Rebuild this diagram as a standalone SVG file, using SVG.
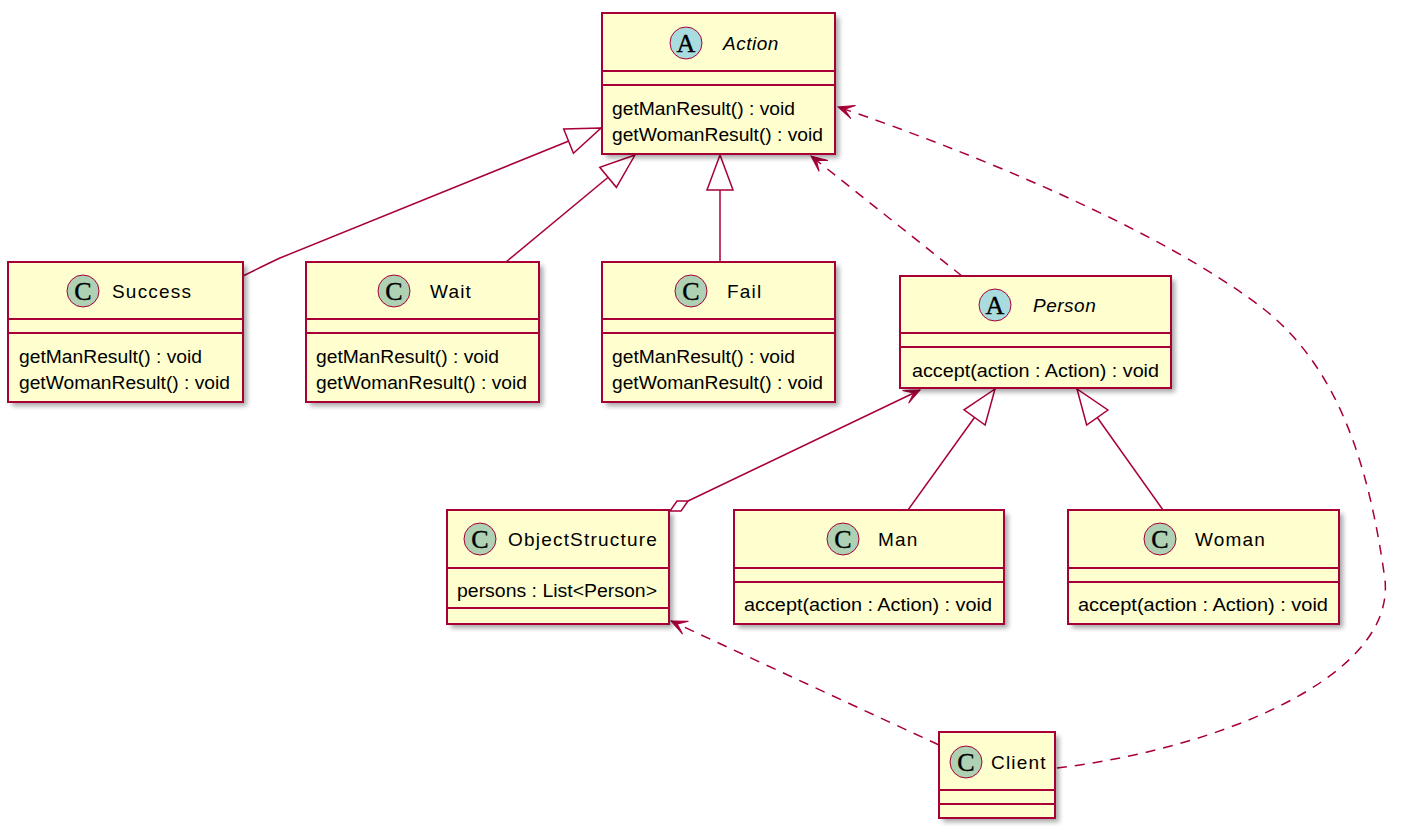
<svg xmlns="http://www.w3.org/2000/svg" width="1416" height="829" viewBox="0 0 1416 829">
<style>
.box{fill:#FEFECE;stroke:#A80036;stroke-width:2}
.sep{stroke:#A80036;stroke-width:2}
.shadow{fill:#000;opacity:0.35;filter:url(#blur)}
.ca{fill:#A9DCDF;stroke:#A80036;stroke-width:1}
.cc{fill:#ADD1B2;stroke:#A80036;stroke-width:1}
.glyph{font-family:"Liberation Serif",serif;font-size:26px;text-anchor:middle;fill:#000;stroke:#000;stroke-width:0.4}
.title{font-family:"Liberation Sans",Arial,sans-serif;font-size:19px;letter-spacing:1.2px;fill:#000}
.it{font-style:italic;letter-spacing:0.5px}
.mem{font-family:"Liberation Sans",Arial,sans-serif;font-size:17.5px;fill:#000}
.edge{fill:none;stroke:#A80036;stroke-width:1.5}
.dash{stroke-dasharray:10,8}
</style>
<defs>
<filter id="blur" x="-10%" y="-10%" width="130%" height="130%"><feGaussianBlur stdDeviation="2.5"/></filter>
<marker id="tri" markerUnits="userSpaceOnUse" markerWidth="40" markerHeight="30" viewBox="-37 -15 40 30" refX="0" refY="0" orient="auto"><path d="M0,0 L-35,-13 L-35,13 Z" fill="#FFFFFF" stroke="#A80036" stroke-width="1.5"/></marker>
<marker id="arr" markerUnits="userSpaceOnUse" markerWidth="22" markerHeight="18" viewBox="-18 -9 22 18" refX="0" refY="0" orient="auto"><path d="M0,0 L-16,-7 L-7,0 L-16,7 Z" fill="#A80036" stroke="#A80036" stroke-width="1"/></marker>
</defs>

<g id="connectors">
<path class="edge" d="M243,276 C255,270 265,265 280,258 L601,128" marker-end="url(#tri)"/>
<path class="edge" d="M506,262 L635,155" marker-end="url(#tri)"/>
<path class="edge" d="M720,262 L720,155" marker-end="url(#tri)"/>
<path class="edge dash" d="M962,276 L811,156" marker-end="url(#arr)"/>
<path class="edge dash" d="M1057,768 C1210,750 1395,680 1385,580 C1370,470 1340,370 1265,310 C1160,228 960,148 838,107" marker-end="url(#arr)"/>
<path class="edge" d="M688,501 L920,390" marker-end="url(#arr)"/>
<polygon points="670,511 677,501 688,501 681,511" fill="#FFFFFF" stroke="#A80036" stroke-width="1.5"/>
<path class="edge" d="M908,510 L995,389" marker-end="url(#tri)"/>
<path class="edge" d="M1163,510 L1077,389" marker-end="url(#tri)"/>
<path class="edge dash" d="M939,745 L671,621" marker-end="url(#arr)"/>
</g>

<g id="Action">
<rect class="shadow" x="606" y="17" width="233" height="141"/>
<rect class="box" x="602" y="13" width="233" height="141"/>
<line class="sep" x1="602" y1="71" x2="835" y2="71"/>
<line class="sep" x1="602" y1="85" x2="835" y2="85"/>
<circle class="ca" cx="686" cy="43" r="16"/>
<text class="glyph" x="686" y="52">A</text>
<text class="title it" x="723" y="50">Action</text>
<text class="mem" x="612" y="115" textLength="183" lengthAdjust="spacingAndGlyphs">getManResult() : void</text>
<text class="mem" x="612" y="141" textLength="211" lengthAdjust="spacingAndGlyphs">getWomanResult() : void</text>
</g>

<g id="Success">
<rect class="shadow" x="12" y="266" width="235" height="140"/>
<rect class="box" x="8" y="262" width="235" height="140"/>
<line class="sep" x1="8" y1="319" x2="243" y2="319"/>
<line class="sep" x1="8" y1="333" x2="243" y2="333"/>
<circle class="cc" cx="83" cy="291" r="16"/>
<text class="glyph" x="83" y="300">C</text>
<text class="title" x="112" y="298">Success</text>
<text class="mem" x="19" y="363" textLength="183" lengthAdjust="spacingAndGlyphs">getManResult() : void</text>
<text class="mem" x="19" y="389" textLength="211" lengthAdjust="spacingAndGlyphs">getWomanResult() : void</text>
</g>

<g id="Wait">
<rect class="shadow" x="310" y="266" width="233" height="140"/>
<rect class="box" x="306" y="262" width="233" height="140"/>
<line class="sep" x1="306" y1="319" x2="539" y2="319"/>
<line class="sep" x1="306" y1="333" x2="539" y2="333"/>
<circle class="cc" cx="394" cy="291" r="16"/>
<text class="glyph" x="394" y="300">C</text>
<text class="title" x="430" y="298">Wait</text>
<text class="mem" x="316" y="363" textLength="183" lengthAdjust="spacingAndGlyphs">getManResult() : void</text>
<text class="mem" x="316" y="389" textLength="211" lengthAdjust="spacingAndGlyphs">getWomanResult() : void</text>
</g>

<g id="Fail">
<rect class="shadow" x="606" y="266" width="233" height="140"/>
<rect class="box" x="602" y="262" width="233" height="140"/>
<line class="sep" x1="602" y1="319" x2="835" y2="319"/>
<line class="sep" x1="602" y1="333" x2="835" y2="333"/>
<circle class="cc" cx="691" cy="291" r="16"/>
<text class="glyph" x="691" y="300">C</text>
<text class="title" x="727" y="298">Fail</text>
<text class="mem" x="612" y="363" textLength="183" lengthAdjust="spacingAndGlyphs">getManResult() : void</text>
<text class="mem" x="612" y="389" textLength="211" lengthAdjust="spacingAndGlyphs">getWomanResult() : void</text>
</g>

<g id="Person">
<rect class="shadow" x="904" y="280" width="271" height="112"/>
<rect class="box" x="900" y="276" width="271" height="112"/>
<line class="sep" x1="900" y1="333" x2="1171" y2="333"/>
<line class="sep" x1="900" y1="347" x2="1171" y2="347"/>
<circle class="ca" cx="995" cy="305" r="16"/>
<text class="glyph" x="995" y="314">A</text>
<text class="title it" x="1033" y="312">Person</text>
<text class="mem" x="912" y="377" textLength="247" lengthAdjust="spacingAndGlyphs">accept(action : Action) : void</text>
</g>

<g id="ObjectStructure">
<rect class="shadow" x="451" y="514" width="222" height="114"/>
<rect class="box" x="447" y="510" width="222" height="114"/>
<line class="sep" x1="447" y1="568" x2="669" y2="568"/>
<line class="sep" x1="447" y1="608" x2="669" y2="608"/>
<circle class="cc" cx="480" cy="539" r="16"/>
<text class="glyph" x="480" y="548">C</text>
<text class="title" x="508" y="546">ObjectStructure</text>
<text class="mem" x="457" y="597" textLength="200" lengthAdjust="spacingAndGlyphs">persons : List&lt;Person&gt;</text>
</g>

<g id="Man">
<rect class="shadow" x="738" y="514" width="270" height="114"/>
<rect class="box" x="734" y="510" width="270" height="114"/>
<line class="sep" x1="734" y1="568" x2="1004" y2="568"/>
<line class="sep" x1="734" y1="582" x2="1004" y2="582"/>
<circle class="cc" cx="843" cy="539" r="16"/>
<text class="glyph" x="843" y="548">C</text>
<text class="title" x="878" y="546">Man</text>
<text class="mem" x="744" y="611" textLength="248" lengthAdjust="spacingAndGlyphs">accept(action : Action) : void</text>
</g>

<g id="Woman">
<rect class="shadow" x="1072" y="514" width="271" height="114"/>
<rect class="box" x="1068" y="510" width="271" height="114"/>
<line class="sep" x1="1068" y1="568" x2="1339" y2="568"/>
<line class="sep" x1="1068" y1="582" x2="1339" y2="582"/>
<circle class="cc" cx="1160" cy="539" r="16"/>
<text class="glyph" x="1160" y="548">C</text>
<text class="title" x="1195" y="546">Woman</text>
<text class="mem" x="1078" y="611" textLength="250" lengthAdjust="spacingAndGlyphs">accept(action : Action) : void</text>
</g>

<g id="Client">
<rect class="shadow" x="943" y="736" width="116" height="86"/>
<rect class="box" x="939" y="732" width="116" height="86"/>
<line class="sep" x1="939" y1="790" x2="1055" y2="790"/>
<line class="sep" x1="939" y1="804" x2="1055" y2="804"/>
<circle class="cc" cx="966" cy="762" r="16"/>
<text class="glyph" x="966" y="771">C</text>
<text class="title" x="991" y="769">Client</text>
</g>
</svg>
